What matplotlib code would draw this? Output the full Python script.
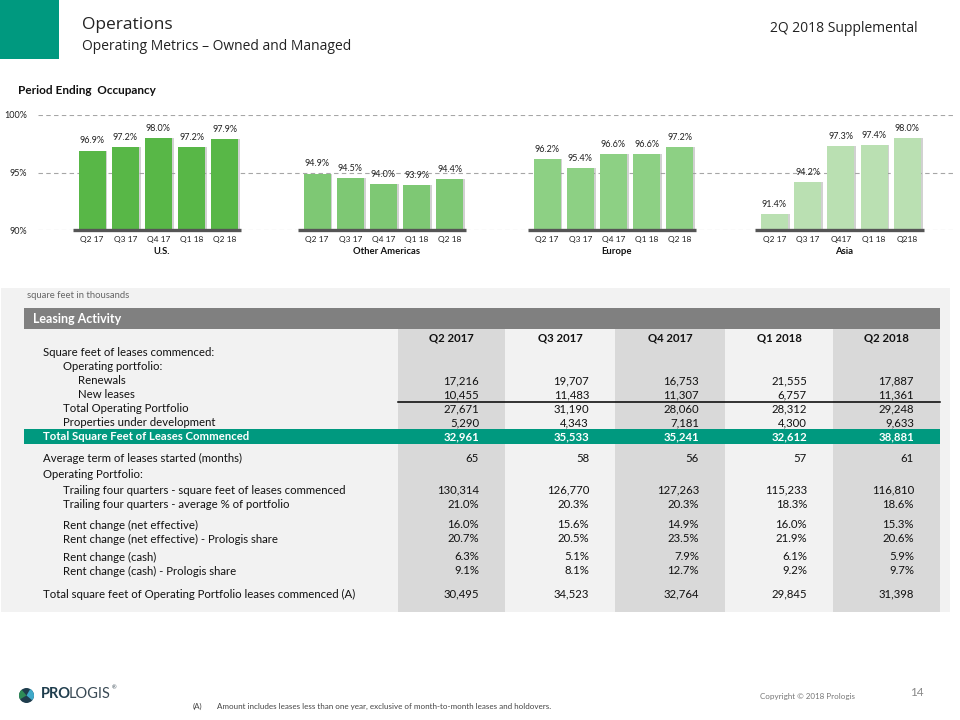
import matplotlib
matplotlib.use("Agg")
import matplotlib.pyplot as plt
from matplotlib.patches import Rectangle, Circle, Wedge
from matplotlib.transforms import blended_transform_factory

plt.rcParams['font.family'] = ['Lato', 'DejaVu Sans']

# ---------------- data ----------------
groups = ["U.S.", "Other Americas", "Europe", "Asia"]
tick_us = ["Q2 17", "Q3 17", "Q4 17", "Q1 18", "Q2 18"]
tick_oa = ["Q2 17", "Q3 17", "Q4 17", "Q1 18", "Q2 18"]
tick_eu = ["Q2 17", "Q3 17", "Q4 17", "Q1 18", "Q2 18"]
tick_asia = ["Q2 17", "Q3 17", "Q417", "Q1 18", "Q218"]
occ_us = [96.9, 97.2, 98.0, 97.2, 97.9]
occ_oa = [94.9, 94.5, 94.0, 93.9, 94.4]
occ_eu = [96.2, 95.4, 96.6, 96.6, 97.2]
occ_asia = [91.4, 94.2, 97.3, 97.4, 98.0]
y_ticks = [90, 95, 100]

quarters = ["Q2 2017", "Q3 2017", "Q4 2017", "Q1 2018", "Q2 2018"]
renewals = [17216, 19707, 16753, 21555, 17887]
new_leases = [10455, 11483, 11307, 6757, 11361]
total_op = [27671, 31190, 28060, 28312, 29248]
under_dev = [5290, 4343, 7181, 4300, 9633]
total_sf = [32961, 35533, 35241, 32612, 38881]
avg_term = [65, 58, 56, 57, 61]
trailing_sf = [130314, 126770, 127263, 115233, 116810]
trailing_pct = [21.0, 20.3, 20.3, 18.3, 18.6]
rent_net = [16.0, 15.6, 14.9, 16.0, 15.3]
rent_net_share = [20.7, 20.5, 23.5, 21.9, 20.6]
rent_cash = [6.3, 5.1, 7.9, 6.1, 5.9]
rent_cash_share = [9.1, 8.1, 12.7, 9.2, 9.7]
total_op_commenced = [30495, 34523, 32764, 29845, 31398]

# ---------------- layout / style ----------------
W, H = 960, 720
TEAL = "#00997F"
bar_colors = ["#58B747", "#7EC874", "#8DD084", "#BAE0B2"]
group_starts = [92, 317, 547, 774.5]
step = 33.2
bar_w = 27
FS = 8.2

fig = plt.figure(figsize=(9.6, 7.2), dpi=100)
bg = fig.add_axes([0, 0, 1, 1])
bg.set_xlim(0, W)
bg.set_ylim(H, 0)
bg.axis("off")

# header
bg.add_patch(Rectangle((0, 0), 59, 59, color=TEAL, lw=0))
bg.text(82, 25, "Operations", fontsize=12.5, family=["Open Sans", "DejaVu Sans"],
        color="#222222", va="center", ha="left")
bg.text(82, 46, "Operating Metrics \u2013 Owned and Managed", fontsize=10,
        family=["Open Sans", "DejaVu Sans"], color="#222222", va="center", ha="left")
bg.text(918, 28, "2Q 2018 Supplemental", fontsize=10, family=["Open Sans", "DejaVu Sans"],
        color="#222222", va="center", ha="right")
bg.text(18, 90, "Period Ending  Occupancy", fontsize=8.5, fontweight="bold",
        color="#111111", va="center", ha="left")

# ---------------- bar chart ----------------
y_top, y_bot = 115, 230
x_left, x_right = 38, 955
axb = fig.add_axes([x_left / W, 1 - y_bot / H, (x_right - x_left) / W, (y_bot - y_top) / H])
axb.set_xlim(x_left, x_right)
axb.set_ylim(90, 100)
axb.patch.set_alpha(0)
for s in axb.spines.values():
    s.set_visible(False)
axb.set_yticks(y_ticks)
axb.set_yticklabels([f"{t}%" for t in y_ticks], fontsize=6.5, color="#222222")
axb.tick_params(axis="y", length=0, pad=8)
axb.grid(axis="y", linestyle=(0, (4, 3)), color="#A6A6A6", lw=0.8, zorder=0)
axb.set_axisbelow(True)

all_vals = [occ_us, occ_oa, occ_eu, occ_asia]
all_ticks = [tick_us, tick_oa, tick_eu, tick_asia]
xt, xl = [], []
trans = blended_transform_factory(axb.transData, fig.transFigure)
for gi, (vals, ticks) in enumerate(zip(all_vals, all_ticks)):
    xs = [group_starts[gi] + i * step for i in range(len(vals))]
    axb.bar([x + 1.8 for x in xs], vals, width=bar_w, color="#9A9A9A", alpha=0.45,
            lw=0, zorder=2)
    axb.bar(xs, vals, width=bar_w, color=bar_colors[gi], lw=0, zorder=3)
    for x, v in zip(xs, vals):
        axb.text(x, v + 0.45, f"{v:.1f}%", fontsize=6.5, ha="center", va="bottom",
                 color="#222222", zorder=5, clip_on=False)
    axb.hlines(90, xs[0] - bar_w / 2 - 6, xs[-1] + bar_w / 2 + 3, color="#555555",
               lw=2.4, zorder=4, clip_on=False)
    xt += xs
    xl += ticks
    axb.text((xs[0] + xs[-1]) / 2 + 3, 1 - 252 / H, groups[gi], transform=trans,
             fontsize=6.8, fontweight="bold", ha="center", va="center", color="#111111")
axb.set_xticks(xt)
axb.set_xticklabels(xl, fontsize=6, color="#222222")
axb.tick_params(axis="x", length=0, pad=4)

# ---------------- table ----------------
bg.add_patch(Rectangle((1, 288), 949, 324, color="#F2F2F2", lw=0, zorder=0))
bg.text(27, 296, "square feet in thousands", fontsize=6.8, color="#666666",
        va="center", ha="left")
bg.add_patch(Rectangle((24, 308), 916, 21, color="#808080", lw=0, zorder=1))
bg.text(33, 319, "Leasing Activity", fontsize=9, fontweight="bold", color="white",
        va="center", ha="left", zorder=3)

col_edges = [398, 505, 615, 725, 833, 940]
for i in range(5):
    c = "#D9D9D9" if i % 2 == 0 else "#F2F2F2"
    bg.add_patch(Rectangle((col_edges[i], 329), col_edges[i + 1] - col_edges[i], 283,
                           color=c, lw=0, zorder=1))
    bg.text((col_edges[i] + col_edges[i + 1]) / 2, 338, quarters[i], fontsize=FS,
            fontweight="bold", ha="center", va="center", color="#111111", zorder=3)

# teal total row
bg.add_patch(Rectangle((24, 429), 916, 15, color=TEAL, lw=0, zorder=2))
# underline under new leases
bg.plot([398, 940], [401.5, 401.5], color="black", lw=1.1, zorder=3)

indent = [43, 63, 78]


def fmt_int(v):
    return f"{v:,}"


def fmt_pct(v):
    return f"{v:.1f}%"


rows = [
    (352, 0, "Square feet of leases commenced:", None, fmt_int, False),
    (366, 1, "Operating portfolio:", None, fmt_int, False),
    (381, 2, "Renewals", renewals, fmt_int, False),
    (395, 2, "New leases", new_leases, fmt_int, False),
    (409, 1, "Total Operating Portfolio", total_op, fmt_int, False),
    (423, 1, "Properties under development", under_dev, fmt_int, False),
    (437, 0, "Total Square Feet of Leases Commenced", total_sf, fmt_int, True),
    (458, 0, "Average term of leases started (months)", avg_term, fmt_int, False),
    (474, 0, "Operating Portfolio:", None, fmt_int, False),
    (490, 1, "Trailing four quarters - square feet of leases commenced", trailing_sf, fmt_int, False),
    (504, 1, "Trailing four quarters - average % of portfolio", trailing_pct, fmt_pct, False),
    (525, 1, "Rent change (net effective)", rent_net, fmt_pct, False),
    (539, 1, "Rent change (net effective) - Prologis share", rent_net_share, fmt_pct, False),
    (557, 1, "Rent change (cash)", rent_cash, fmt_pct, False),
    (571, 1, "Rent change (cash) - Prologis share", rent_cash_share, fmt_pct, False),
    (594, 0, "Total square feet of Operating Portfolio leases commenced (A)", total_op_commenced, fmt_int, False),
]
for y, lvl, label, vals, f, hl in rows:
    color = "white" if hl else "#111111"
    weight = "bold" if hl else "normal"
    bg.text(indent[lvl], y, label, fontsize=FS, color=color, fontweight=weight,
            va="center", ha="left", zorder=4)
    if vals is not None:
        for i, v in enumerate(vals):
            bg.text(col_edges[i + 1] - 26, y, f(v), fontsize=FS, color=color,
                    fontweight=weight, va="center", ha="right", zorder=4)

# ---------------- footer ----------------
bg.add_patch(Circle((26.5, 695.5), 7.5, color="#1F3D4D", lw=0))
bg.add_patch(Wedge((26.5, 695.5), 7.5, -60, 40, color="#3FA9C9", lw=0))
bg.add_patch(Wedge((26.5, 695.5), 7.5, 150, 230, color="#2E8B57", lw=0))
t_pro = bg.text(41, 694, "PRO", fontsize=10.5, fontweight="bold", color="#1F3D4D",
                va="center", ha="left")
fig.canvas.draw()
ext = t_pro.get_window_extent(renderer=fig.canvas.get_renderer())
bg.text(ext.x1 - 2.5, 694, "LOGIS", fontsize=10.5, color="#3A4A55", va="center", ha="left")
bg.text(112, 688, "\u00ae", fontsize=4, color="#3A4A55", va="center", ha="left")
bg.text(193, 706, "(A)", fontsize=5.8, color="#444444", va="center", ha="left")
bg.text(217, 706, "Amount includes leases less than one year, exclusive of month-to-month leases and holdovers.",
        fontsize=5.8, color="#444444", va="center", ha="left")
bg.text(760, 696, "Copyright \u00a9 2018 Prologis", fontsize=5.8, color="#777777",
        va="center", ha="left")
bg.text(910, 693, "14", fontsize=8.5, color="#888888", va="center", ha="left")

fig.savefig("out.png", dpi=100)
